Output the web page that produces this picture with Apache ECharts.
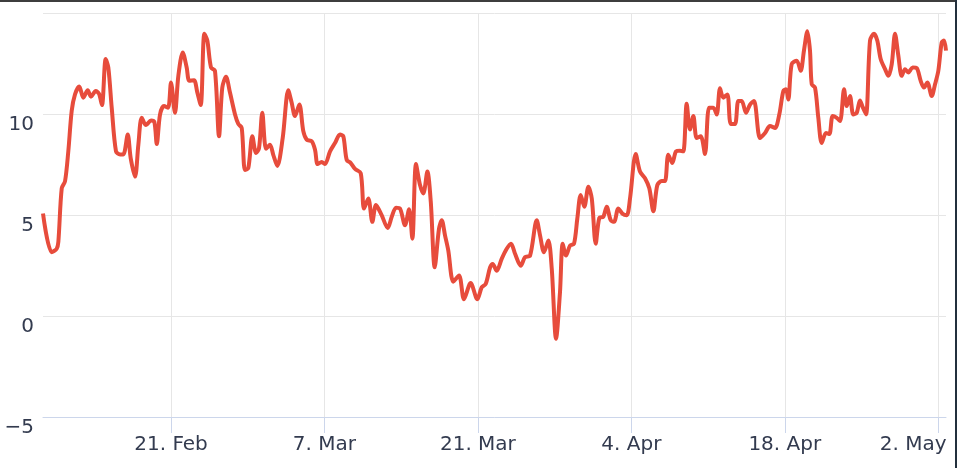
<!DOCTYPE html>
<html>
<head>
<meta charset="utf-8">
<script src="https://cdn.jsdelivr.net/npm/echarts@6/dist/echarts.min.js"></script>
<style>
  html, body { margin: 0; padding: 0; background: #fff; }
  #chart { width: 957px; height: 468px; position: relative; }
  .edge-top { position: absolute; left: 0; top: 0; width: 957px; height: 2px; background: #3d3d3d; }
  .edge-right { position: absolute; right: 0; top: 0; width: 2px; height: 468px; background: #23303d; }
</style>
</head>
<body>
<div id="chart"></div>
<div class="edge-top"></div>
<div class="edge-right"></div>
<script>
// Days relative to 21 Feb (day 0); x range of the plot
const xMinDay = -11.68;
const xMaxDay = 70.71;

// Tick positions (days after 21 Feb) and their labels
const tickDays = [0, 14, 28, 42, 56, 70];
const tickLabels = ['21. Feb', '7. Mar', '21. Mar', '4. Apr', '18. Apr', '2. May'];

// Y axis
const yMin = -5, yMax = 15, yStep = 5;

// Series: sample times (days after 21 Feb) and values
const days = [
  -11.68, -10.89, -10.43, -10.28, -9.97, -9.67, -9.37, -9.06, -8.76, -8.37,
  -8.00, -7.60, -7.30, -6.87, -6.57, -6.30, -5.96, -5.72, -5.41, -5.02,
  -4.65, -4.35, -3.95, -3.68, -3.28, -2.98, -2.67, -2.28, -1.82, -1.52,
  -1.30, -1.00, -0.64, -0.27, 0.00, 0.36, 0.67, 1.07, 1.43, 1.67,
  2.10, 2.40, 2.71, 3.04, 3.31, 3.65, 4.01, 4.38, 4.68, 5.02,
  5.38, 5.84, 6.14, 6.45, 6.75, 7.05, 7.42, 7.76, 8.03, 8.33,
  8.67, 9.03, 9.33, 9.70, 10.19, 10.70, 11.01, 11.31, 11.71, 12.07,
  12.38, 12.84, 13.14, 13.38, 13.75, 14.05, 14.51, 14.96, 15.42, 15.72,
  16.03, 16.40, 16.79, 17.31, 17.61, 18.00, 18.37, 18.70, 19.22, 19.77,
  20.14, 20.53, 20.89, 21.35, 21.72, 22.02, 22.35, 22.72, 23.02, 23.39,
  23.70, 24.06, 24.45, 24.70, 25.00, 25.30, 25.76, 26.28, 26.73, 27.34,
  27.95, 28.35, 28.71, 29.11, 29.35, 29.72, 30.17, 30.63, 31.02, 31.39,
  31.91, 32.30, 32.76, 33.37, 33.67, 34.03, 34.43, 34.74, 35.13, 35.49,
  35.74, 36.04, 36.41, 36.77, 37.07, 37.38, 37.71, 38.08, 38.39, 38.75,
  39.08, 39.44, 39.75, 40.12, 40.42, 40.81, 41.18, 41.58, 41.88, 42.40,
  42.79, 43.25, 43.64, 44.01, 44.37, 44.77, 45.07, 45.37, 45.74, 46.08,
  46.44, 46.74, 47.05, 47.35, 47.66, 47.96, 48.33, 48.72, 49.09, 49.48,
  49.79, 50.09, 50.39, 50.76, 51.07, 51.46, 51.76, 52.07, 52.46, 52.83,
  53.19, 53.74, 54.20, 54.65, 55.11, 55.50, 55.87, 56.11, 56.32, 56.63,
  57.09, 57.45, 57.75, 58.06, 58.30, 58.46, 58.76, 59.06, 59.37, 59.76,
  60.07, 60.37, 60.74, 61.04, 61.41, 61.65, 61.95, 62.25, 62.56, 62.86,
  63.11, 63.41, 63.78, 64.14, 64.44, 64.75, 65.15, 65.45, 65.76, 66.06,
  66.36, 66.67, 66.97, 67.27, 67.67, 68.04, 68.40, 68.70, 69.01, 69.41,
  69.71, 70.01, 70.32, 70.53, 70.71
];
const values = [
  5.07, 3.16, 3.33, 3.67, 6.32, 6.67, 8.16, 10.16, 10.97, 11.36,
  10.81, 11.17, 10.86, 11.14, 11.00, 10.44, 12.72, 12.30, 10.31, 8.15,
  8.00, 8.00, 8.98, 7.82, 6.90, 8.48, 9.81, 9.45, 9.68, 9.61,
  8.51, 9.98, 10.39, 10.31, 11.56, 10.06, 11.89, 13.05, 12.30, 11.64,
  11.67, 11.06, 10.44, 13.97, 13.64, 12.30, 12.14, 8.90, 11.31, 11.84,
  11.06, 9.98, 9.51, 9.31, 7.23, 7.32, 8.90, 8.07, 8.31, 10.06,
  8.28, 8.48, 7.98, 7.43, 8.81, 11.17, 10.56, 9.90, 10.47, 9.15,
  8.73, 8.65, 8.23, 7.52, 7.62, 7.52, 8.15, 8.56, 8.98, 8.90,
  7.73, 7.57, 7.28, 7.07, 5.32, 5.82, 4.66, 5.49, 4.99, 4.36,
  4.91, 5.36, 5.32, 4.49, 5.29, 3.83, 7.52, 6.48, 6.07, 7.15,
  5.66, 2.41, 4.32, 4.74, 3.99, 3.24, 1.70, 2.00, 0.83, 1.63,
  0.83, 1.42, 1.58, 2.40, 2.58, 2.24, 2.83, 3.33, 3.58, 3.08,
  2.49, 2.91, 2.99, 4.74, 3.99, 3.16, 3.74, 2.33, -1.13, 1.17,
  3.58, 2.99, 3.49, 3.58, 4.82, 5.99, 5.41, 6.40, 5.82, 3.58,
  4.86, 4.91, 5.41, 4.74, 4.66, 5.32, 5.07, 4.99, 5.82, 8.02,
  7.15, 6.82, 6.32, 5.19, 6.48, 6.68, 6.68, 7.98, 7.57, 8.15,
  8.18, 8.15, 10.51, 9.23, 9.90, 8.81, 8.90, 8.02, 10.31, 10.31,
  9.98, 11.27, 10.81, 10.97, 9.51, 9.51, 10.64, 10.64, 10.06, 10.47,
  10.64, 8.81, 9.06, 9.40, 9.31, 9.98, 11.14, 11.22, 10.72, 12.47,
  12.64, 12.14, 13.14, 14.10, 13.14, 11.47, 11.31, 9.81, 8.56, 9.06,
  9.01, 9.90, 9.81, 9.65, 11.22, 10.39, 10.89, 9.98, 10.06, 10.67,
  10.34, 9.98, 13.64, 13.97, 13.64, 12.72, 12.22, 11.89, 12.47, 13.97,
  12.89, 11.89, 12.22, 12.06, 12.30, 12.27, 11.64, 11.31, 11.56, 10.89,
  11.47, 12.14, 13.55, 13.64, 13.14
];

const labelFont = 'DejaVu Sans';
const labelColor = '#333b4f';
const labelSize = 20;

const chart = echarts.init(document.getElementById('chart'), null, { renderer: 'canvas' });
chart.setOption({
  animation: false,
  backgroundColor: '#ffffff',
  grid: { left: 43, right: 11, top: 13, bottom: 51, containLabel: false },
  xAxis: {
    type: 'value',
    min: xMinDay,
    max: xMaxDay,
    axisLine: { show: true, onZero: false, lineStyle: { color: '#ccd6eb', width: 1 } },
    axisTick: { show: true, inside: false, length: 16, lineStyle: { color: '#ccd6eb', width: 1 }, customValues: tickDays },
    splitLine: { show: true, lineStyle: { color: '#e6e6e6', width: 1 } },
    axisLabel: {
      customValues: tickDays,
      margin: 18,
      fontFamily: labelFont,
      fontSize: labelSize,
      color: labelColor,
      formatter: function (v) {
        const i = tickDays.indexOf(Math.round(v));
        if (i < 0) return '';
        if (i === tickDays.length - 1) return '{last|' + tickLabels[i] + '}';
        return tickLabels[i];
      },
      rich: {
        last: { fontFamily: labelFont, fontSize: labelSize, color: labelColor, padding: [0, 50, 0, 0] }
      }
    }
  },
  yAxis: {
    type: 'value',
    min: yMin,
    max: yMax,
    interval: yStep,
    axisLine: { show: false },
    axisTick: { show: false },
    splitLine: { show: true, lineStyle: { color: '#e6e6e6', width: 1 } },
    axisLabel: {
      showMaxLabel: false,
      margin: 9,
      fontFamily: labelFont,
      fontSize: labelSize,
      color: labelColor,
      verticalAlign: 'top',
      lineHeight: 21,
      formatter: function (v) { return String(v).replace('-', '\u2212'); }
    }
  },
  series: [{
    type: 'line',
    data: days.map(function (d, i) { return [d, values[i]]; }),
    smooth: 0.3,
    showSymbol: false,
    lineStyle: { color: '#e74c3c', width: 4 },
    itemStyle: { color: '#e74c3c' }
  }]
});
</script>
</body>
</html>
